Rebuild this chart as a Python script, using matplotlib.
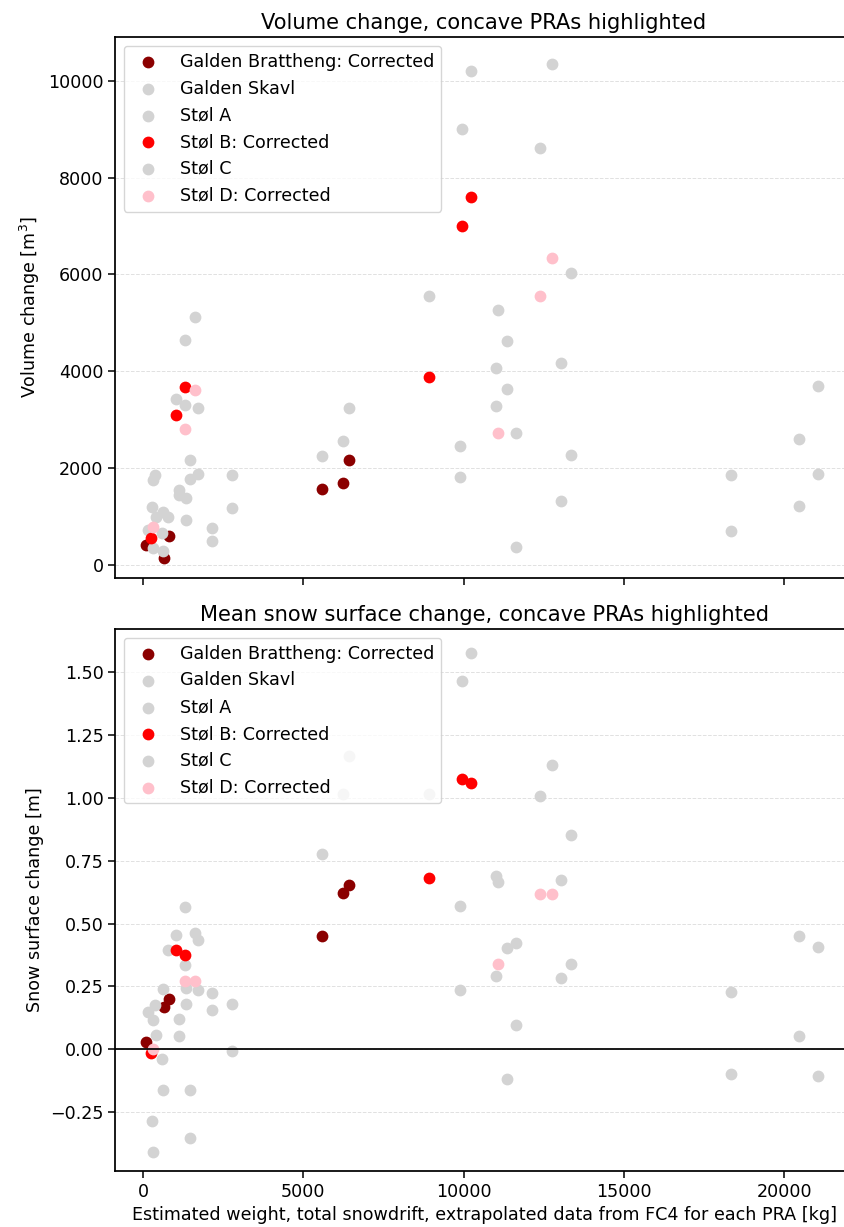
import matplotlib
matplotlib.use("Agg")
import matplotlib.pyplot as plt

# Estimated snowdrift weight [kg], volume change [m3] and mean surface change [m] per PRA
brattheng_weight = [104, 645, 820, 5590, 6245, 6410]
brattheng_volume = [412, 137, 604, 1562, 1701, 2163]
brattheng_surface = [0.029, 0.169, 0.198, 0.449, 0.623, 0.652]

skavl_weight = [1632, 1299, 1299, 1019, 1726, 1720, 1455, 1455, 364, 312, 290, 390, 312]
skavl_volume = [5110, 4643, 3313, 3429, 3251, 1886, 2167, 1770, 1866, 1749, 1207, 994, 357]
skavl_surface = [0.462, 0.564, 0.333, 0.453, 0.433, 0.236, -0.164, -0.353, 0.176, 0.116,
                 -0.284, 0.057, -0.410]

stolA_weight = [2765, 2765, 1123, 1123, 1351, 1351, 624, 605, 620, 785, 2162, 2162, 156]
stolA_volume = [1852, 1180, 1550, 1440, 1385, 919, 1097, 652, 288, 988, 754, 494, 720]
stolA_surface = [0.181, -0.007, 0.120, 0.051, 0.242, 0.181, 0.240, -0.041, -0.164, 0.393,
                 0.224, 0.154, 0.146]

stolB_weight = [260, 1019, 1299, 8912, 9940, 10215]
stolB_volume = [562, 3100, 3676, 3886, 7000, 7600]
stolB_surface = [-0.015, 0.393, 0.375, 0.680, 1.076, 1.061]

stolC_weight = [5590, 6245, 6410, 8912, 9940, 9880, 9880, 10215, 11020, 11020, 11075,
                11350, 11350, 11620, 11620, 12380, 12763, 13035, 13035, 13360, 13360,
                18350, 18350, 20470, 20470, 21065, 21065]
stolC_volume = [2243, 2559, 3240, 5557, 9000, 2456, 1811, 10200, 4069, 3277, 5271,
                4626, 3629, 2735, 381, 8600, 10350, 4164, 1312, 6026, 2273,
                1855, 704, 2603, 1210, 3702, 1884]
stolC_surface = [0.776, 1.014, 1.166, 1.014, 1.464, 0.568, 0.235, 1.575, 0.688, 0.290, 0.665,
                 0.401, -0.120, 0.421, 0.096, 1.006, 1.131, 0.673, 0.284, 0.853, 0.338,
                 0.228, -0.098, 0.449, 0.054, 0.408, -0.106]

stolD_weight = [312, 1299, 1632, 11078, 12380, 12763]
stolD_volume = [789, 2812, 3608, 2735, 5557, 6342]
stolD_surface = [0.001, 0.273, 0.273, 0.338, 0.616, 0.616]

series = [
    ("Galden Brattheng: Corrected", "darkred", brattheng_weight, brattheng_volume, brattheng_surface),
    ("Galden Skavl", "lightgray", skavl_weight, skavl_volume, skavl_surface),
    ("Støl A", "lightgray", stolA_weight, stolA_volume, stolA_surface),
    ("Støl B: Corrected", "red", stolB_weight, stolB_volume, stolB_surface),
    ("Støl C", "lightgray", stolC_weight, stolC_volume, stolC_surface),
    ("Støl D: Corrected", "pink", stolD_weight, stolD_volume, stolD_surface),
]

FS = 12.6
fig = plt.figure(figsize=(8.44, 12.27), dpi=100)
ax1 = fig.add_axes([0.1363, 0.5289, 0.8744, 0.4409])
ax2 = fig.add_axes([0.1363, 0.0456, 0.8744, 0.4418], sharex=ax1)

for label, color, w, vol, surf in series:
    ax1.scatter(w, vol, s=52, color=color, linewidths=1.26, label=label)
    ax2.scatter(w, surf, s=52, color=color, linewidths=1.26, label=label)

ax2.axhline(0, color="black", linewidth=1.26)

ax1.set_xlim(-873, 22147)
ax1.set_ylim(-270, 10900)
ax2.set_ylim(-0.485, 1.672)
ax1.set_yticks([0, 2000, 4000, 6000, 8000, 10000])
ax2.set_yticks([-0.25, 0, 0.25, 0.5, 0.75, 1.0, 1.25, 1.5])
ax2.set_xticks([0, 5000, 10000, 15000, 20000])

for ax in (ax1, ax2):
    ax.grid(axis="y", linestyle="--", color="lightgray", linewidth=0.7, alpha=0.7)
    ax.set_axisbelow(True)
    ax.tick_params(labelsize=FS, width=1.1, length=4.8)
    for sp in ax.spines.values():
        sp.set_linewidth(1.26)
    ax.legend(loc="upper left", fontsize=FS)

ax1.tick_params(labelbottom=False)

ax1.set_title("Volume change, concave PRAs highlighted", fontsize=15.1)
ax2.set_title("Mean snow surface change, concave PRAs highlighted", fontsize=15.1)
ax1.set_ylabel("Volume change [m$^3$]", fontsize=FS)
ax2.set_ylabel("Snow surface change [m]", fontsize=FS)
ax2.set_xlabel("Estimated weight, total snowdrift, extrapolated data from FC4 for each PRA [kg]",
               fontsize=FS)

fig.savefig("out.png", dpi=100)
